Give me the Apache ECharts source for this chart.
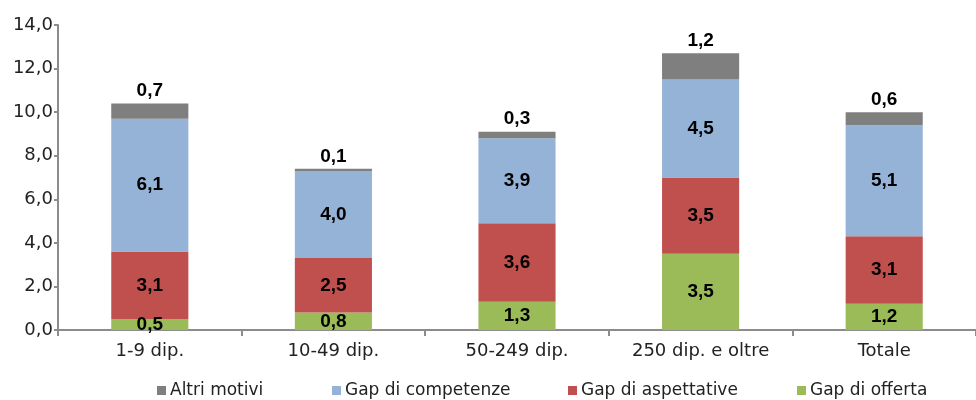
<!DOCTYPE html>
<html><head><meta charset="utf-8">
<script src="https://cdn.jsdelivr.net/npm/echarts@6/dist/echarts.min.js"></script>
<style>html,body{margin:0;padding:0;background:#fff}#c{width:976px;height:400px}</style>
</head><body><div id="c"></div>
<script>
const categories = ['1-9 dip.', '10-49 dip.', '50-249 dip.', '250 dip. e oltre', 'Totale'];
const gapOfferta = [0.5, 0.8, 1.3, 3.5, 1.2];
const gapAspettative = [3.1, 2.5, 3.6, 3.5, 3.1];
const gapCompetenze = [6.1, 4.0, 3.9, 4.5, 5.1];
const altriMotivi = [0.7, 0.1, 0.3, 1.2, 0.6];
const seriesNames = ['Altri motivi', 'Gap di competenze', 'Gap di aspettative', 'Gap di offerta'];

const FONT = 'DejaVu Sans, sans-serif';
const BFONT = 'Liberation Sans, Arial, sans-serif';
const fmt = v => v.toFixed(1).replace('.', ',');
const inLabel = {show: true, position: 'inside', fontFamily: BFONT, fontSize: 19, fontWeight: 'bold', color: '#000',
  formatter: p => fmt(p.value)};

function mk(name, data, color, label) {
  return {name, type: 'bar', stack: 'a', data, barWidth: '42%', itemStyle: {color}, label, animation: false};
}

const legendPos = [152, 327, 563, 792];
const legends = seriesNames.map((n, i) => ({
  data: [n], left: legendPos[i], top: 377, itemWidth: 9, itemHeight: 9, itemGap: 0, icon: 'rect',
  textStyle: {fontFamily: FONT, fontSize: 17, color: '#222', padding: [0, 0, 0, -1]}
}));

const chart = echarts.init(document.getElementById('c'));
chart.setOption({
  animation: false,
  legend: legends,
  grid: {left: 58, top: 25, width: 925, height: 305},
  xAxis: {type: 'category', data: categories,
    axisLine: {lineStyle: {color: '#8c8c8c', width: 2}},
    axisTick: {show: true, length: 6, lineStyle: {color: '#8c8c8c', width: 2}},
    axisLabel: {fontFamily: FONT, fontSize: 18, color: '#222', margin: 12}},
  yAxis: {type: 'value', min: 0, max: 14, interval: 2,
    axisLine: {show: true, lineStyle: {color: '#8c8c8c', width: 2}},
    axisTick: {show: true, length: 4, lineStyle: {color: '#8c8c8c', width: 2}},
    splitLine: {show: false},
    axisLabel: {fontFamily: FONT, fontSize: 18, color: '#222', margin: 5, formatter: v => fmt(v)}},
  series: [
    mk('Gap di offerta', gapOfferta, '#9bbb59', inLabel),
    mk('Gap di aspettative', gapAspettative, '#c0504d', inLabel),
    mk('Gap di competenze', gapCompetenze, '#95b3d7', inLabel),
    mk('Altri motivi', altriMotivi, '#7f7f7f', Object.assign({}, inLabel, {position: 'top', distance: 3}))
  ]
});
</script></body></html>
